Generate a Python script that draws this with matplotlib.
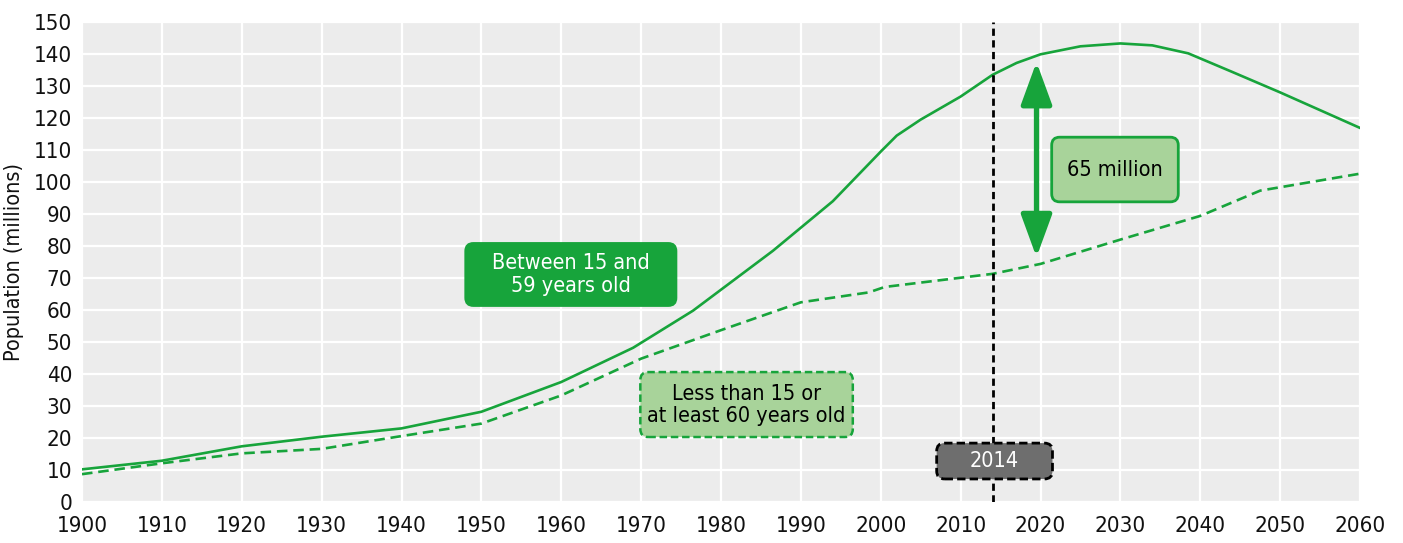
import matplotlib
matplotlib.use("Agg")
import matplotlib.pyplot as plt
from matplotlib.patches import FancyBboxPatch, FancyArrowPatch

# ---- data ----
working_years = [1900, 1910, 1920, 1930, 1940, 1950, 1960, 1969, 1976.5, 1986.5,
                 1994, 2000, 2002, 2005, 2010, 2014, 2017, 2020, 2025, 2030,
                 2034, 2038.5, 2044, 2050, 2060]
working_pop = [10.2, 12.9, 17.4, 20.4, 23.0, 28.2, 37.5, 48.2, 59.8, 78.5,
               94.0, 109.5, 114.5, 119.5, 126.7, 133.5, 137.2, 139.9, 142.4, 143.3,
               142.7, 140.2, 134.4, 128.0, 116.9]

other_years = [1900, 1910, 1920, 1930, 1940, 1950, 1960, 1970, 1980, 1990,
               1998.5, 2000.5, 2014, 2020, 2030, 2040, 2047.5, 2060]
other_pop = [8.7, 12.1, 15.2, 16.6, 20.6, 24.5, 33.3, 44.8, 53.7, 62.4,
             65.5, 67.2, 71.3, 74.4, 82.0, 89.4, 97.3, 102.6]

x_ticks = list(range(1900, 2061, 10))
y_ticks = list(range(0, 151, 10))
ref_year = 2014
gap_label = "65 million"
working_label = "Between 15 and\n59 years old"
other_label = "Less than 15 or\nat least 60 years old"
y_label = "Population (millions)"

GREEN = "#17a43b"
LIGHT = "#a8d39a"

plt.rcParams['font.family'] = ['DejaVu Sans']
plt.rcParams['font.stretch'] = 'condensed'

fig = plt.figure(figsize=(14.03, 5.43), dpi=100)
ax = fig.add_axes([82/1403, 1 - 502/543, (1360-82)/1403, (502-22)/543])
ax.set_facecolor("#ececec")
for s in ax.spines.values():
    s.set_visible(False)
ax.set_xlim(1900, 2060)
ax.set_ylim(0, 150)
ax.set_xticks(x_ticks)
ax.set_yticks(y_ticks)
ax.tick_params(length=0, labelsize=16, colors="#111111")
ax.tick_params(axis="y", pad=7)
ax.tick_params(axis="x", pad=10)
ax.grid(True, color="white", linewidth=1.6)
ax.set_axisbelow(True)
ax.set_ylabel(y_label, fontsize=15.5, color="#111111")
ax.yaxis.set_label_coords(-58/1278, 0.5)

ax.plot(working_years, working_pop, color=GREEN, lw=1.9, solid_joinstyle="round", zorder=3)
ax.plot(other_years, other_pop, color=GREEN, lw=1.9, dashes=(4, 2.2), zorder=3)

ax.axvline(ref_year, color="black", lw=2.0, dashes=(2.6, 1.6), zorder=4)

asp = (8.0 / 3.2)  # y data units per x data unit at equal pixels

def box(x0, x1, y0, y1, fc, ec, ls="-", lw=1.5, z=5):
    p = FancyBboxPatch((x0, y0), x1 - x0, y1 - y0,
                       boxstyle="round,pad=0,rounding_size=1.0",
                       mutation_aspect=asp, fc=fc, ec=ec, lw=lw, ls=ls, zorder=z)
    ax.add_patch(p)

# Working-age label
box(1948.0, 1974.4, 61.3, 80.9, GREEN, GREEN)
ax.text((1948.0 + 1974.4) / 2, 71.1, working_label, ha="center", va="center",
        color="white", fontsize=15.5, linespacing=1.15, zorder=6)

# Other label
box(1969.9, 1996.5, 20.3, 40.6, LIGHT, GREEN, ls=(0, (3, 1.5)), lw=1.8)
ax.text((1969.9 + 1996.5) / 2, 30.4, other_label, ha="center", va="center",
        color="black", fontsize=15.5, linespacing=1.15, zorder=6)

# 65 million label
box(2021.4, 2037.25, 93.8, 114.0, LIGHT, GREEN, lw=2.0)
ax.text((2021.4 + 2037.25) / 2, 103.9, gap_label, ha="center", va="center",
        color="black", fontsize=15.5, zorder=6)

# 2014 label
box(2007.0, 2021.5, 7.2, 18.4, "#6e6e6e", "black", ls=(0, (3, 1.5)), lw=2.0)
ax.text((2007.0 + 2021.5) / 2, 12.8, str(ref_year), ha="center", va="center",
        color="white", fontsize=15.5, zorder=6)

# double arrow
arr = FancyArrowPatch((2019.5, 76.5), (2019.5, 137.5),
                      arrowstyle="<|-|>,head_length=26,head_width=9.5",
                      mutation_scale=1, shrinkA=0, shrinkB=0,
                      color=GREEN, lw=3.8, zorder=5)
ax.add_patch(arr)

fig.savefig("out.png", dpi=100)
